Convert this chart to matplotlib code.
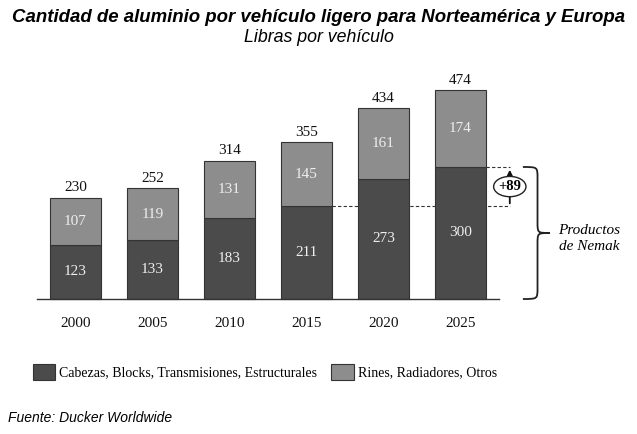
import matplotlib
matplotlib.use('Agg')
import matplotlib.pyplot as plt
from matplotlib.patches import Ellipse, PathPatch, Patch
from matplotlib.path import Path
import numpy as np

years = ['2000', '2005', '2010', '2015', '2020', '2025']
cabezas = [123, 133, 183, 211, 273, 300]
rines = [107, 119, 131, 145, 161, 174]
totals = [230, 252, 314, 355, 434, 474]

dark = '#4b4b4b'
light = '#8d8d8d'
serif = 'Liberation Serif'
sans = 'Liberation Sans'


def draw_brace(ax, x0, xm, xt, y0, y1, r):
    mid = (y0 + y1) / 2.0
    verts = [(x0, y1), (xm, y1), (xm, y1), (xm, y1 - r),
             (xm, mid + r),
             (xm, mid), (xm, mid), (xt, mid),
             (xm, mid), (xm, mid), (xm, mid - r),
             (xm, y0 + r),
             (xm, y0), (xm, y0), (x0, y0)]
    codes = [Path.MOVETO, Path.CURVE4, Path.CURVE4, Path.CURVE4,
             Path.LINETO,
             Path.CURVE4, Path.CURVE4, Path.CURVE4,
             Path.CURVE4, Path.CURVE4, Path.CURVE4,
             Path.LINETO,
             Path.CURVE4, Path.CURVE4, Path.CURVE4]
    ax.add_patch(PathPatch(Path(verts, codes), facecolor='none', edgecolor='#222222', lw=1.3))


fig = plt.figure(figsize=(6.37, 4.34), dpi=100)
ax = fig.add_axes([0, 0, 1, 1])
ax.set_xlim(-0.9805, 7.292)
ax.set_ylim(-306.8, 679.5)
ax.axis('off')

x = np.arange(len(years))
w = 0.66
ax.bar(x, cabezas, w, color=dark, edgecolor='#333333', lw=0.8, zorder=3)
ax.bar(x, rines, w, bottom=cabezas, color=light, edgecolor='#333333', lw=0.8, zorder=3)
ax.plot([-0.5, 5.5], [0, 0], color='#333333', lw=1.0, zorder=4)

for i in range(len(years)):
    ax.text(x[i], cabezas[i] / 2, str(cabezas[i]), ha='center', va='center',
            color='#eeeeee', fontsize=11, family=serif, zorder=5)
    ax.text(x[i], cabezas[i] + rines[i] / 2, str(rines[i]), ha='center', va='center',
            color='#eeeeee', fontsize=11, family=serif, zorder=5)
    ax.text(x[i], totals[i] + 8, str(totals[i]), ha='center', va='bottom',
            color='#111111', fontsize=11, family=serif, zorder=5)
    ax.text(x[i], -55, years[i], ha='center', va='center',
            color='#111111', fontsize=11, family=serif)

# Nemak increase markers
diff = cabezas[-1] - cabezas[3]
ax_x = 5.64
ax.plot([3 + w / 2, ax_x], [cabezas[3], cabezas[3]], ls=(0, (3, 2)), color='#333333', lw=0.8, zorder=1)
ax.plot([5 + w / 2, ax_x], [cabezas[-1], cabezas[-1]], ls=(0, (3, 2)), color='#333333', lw=0.8, zorder=1)
ax.annotate('', xy=(ax_x, cabezas[-1]), xytext=(ax_x, cabezas[3]),
            arrowprops=dict(arrowstyle='-|>', color='#111111', lw=1.3, mutation_scale=9), zorder=5)
mid = (cabezas[3] + cabezas[-1]) / 2
ax.add_patch(Ellipse((ax_x, mid), 0.42, 46, facecolor='white', edgecolor='#222222', lw=1.0, zorder=6))
ax.text(ax_x, mid, '+%d' % diff, ha='center', va='center', fontsize=10.5,
        fontweight='bold', family=serif, zorder=7)

draw_brace(ax, 5.81, 6.0, 6.16, 0, cabezas[-1], 25)
ax.text(6.67, 138, 'Productos\nde Nemak', ha='center', va='center', ma='center', fontsize=11,
        style='italic', family=serif, linespacing=1.3)

handles = [Patch(facecolor=dark, edgecolor='#333333', lw=0.8),
           Patch(facecolor=light, edgecolor='#333333', lw=0.8)]
fig.legend(handles, ['Cabezas, Blocks, Transmisiones, Estructurales',
                     'Rines, Radiadores, Otros'],
           loc='center', bbox_to_anchor=(265 / 637, 1 - 372 / 434), ncol=2, frameon=False,
           prop={'family': serif, 'size': 10}, handlelength=1.6, handleheight=1.3,
           handletextpad=0.3, columnspacing=1.0)

fig.text(0.5, 1 - 17 / 434, 'Cantidad de aluminio por vehículo ligero para Norteamérica y Europa',
         ha='center', va='center', fontsize=13.4, fontweight='bold', style='italic', family=sans)
fig.text(0.5, 1 - 38 / 434, 'Libras por vehículo', ha='center', va='center',
         fontsize=12.8, style='italic', family=sans)
fig.text(8 / 637, 1 - 418 / 434, 'Fuente: Ducker Worldwide', ha='left', va='center',
         fontsize=10, style='italic', family=sans)

fig.savefig('out.png', dpi=100)
